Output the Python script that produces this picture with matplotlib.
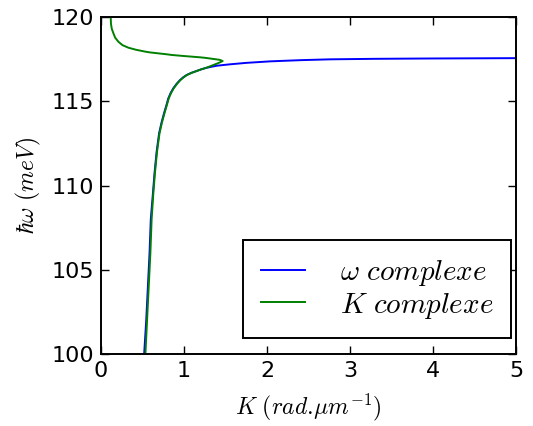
import matplotlib
matplotlib.use("Agg")
import matplotlib.pyplot as plt

# omega complex branch (K real, E)
k_omega = [0.52, 0.545, 0.565, 0.585, 0.60, 0.625, 0.645, 0.67, 0.70, 0.73, 0.759, 0.79, 0.811, 0.84,
           0.871, 0.91, 0.952, 0.99, 1.032, 1.09, 1.153, 1.21, 1.273, 1.394, 1.546, 1.75, 2.04, 2.4,
           2.76, 3.3, 3.96, 5.0]
e_omega = [100.0, 102.0, 104.0, 106.0, 108.0, 109.5, 110.74, 112.0, 113.1, 113.75, 114.28, 114.8, 115.17, 115.5,
           115.77, 116.03, 116.26, 116.42, 116.56, 116.69, 116.80, 116.90, 116.99, 117.11, 117.19, 117.28, 117.37, 117.44,
           117.49, 117.52, 117.54, 117.56]

# K complex branch
k_kc = [0.535, 0.555, 0.575, 0.595, 0.61, 0.63, 0.65, 0.675, 0.705, 0.735, 0.764, 0.795, 0.816, 0.845,
        0.876, 0.915, 0.957, 0.995, 1.036, 1.093, 1.155, 1.21, 1.27, 1.353, 1.42, 1.466, 1.43, 1.373,
        1.253, 1.193, 0.99, 0.85, 0.79, 0.59, 0.53, 0.42, 0.33, 0.26, 0.21, 0.17, 0.15, 0.13, 0.12, 0.117]
e_kc = [100.0, 102.0, 104.0, 106.0, 108.0, 109.5, 110.74, 112.0, 113.1, 113.75, 114.28, 114.8, 115.17, 115.5,
        115.77, 116.03, 116.26, 116.42, 116.56, 116.69, 116.80, 116.90, 116.99, 117.15, 117.28, 117.39, 117.46, 117.50,
        117.58, 117.61, 117.69, 117.75, 117.79, 117.9, 117.95, 118.06, 118.18, 118.33, 118.53, 118.78, 119.03, 119.3, 119.6, 120.0]

labels = [r'$\omega\ complexe$', r'$K\ complexe$']

plt.rcParams['mathtext.fontset'] = 'cm'
plt.rcParams['font.family'] = 'DejaVu Sans'

fig = plt.figure(figsize=(5.33, 4.26), dpi=100)
ax = fig.add_axes([0.1895, 0.169, 0.7785, 0.791])
ax.plot(k_omega, e_omega, color='#0000ff', lw=1.4, label=labels[0])
ax.plot(k_kc, e_kc, color='#008000', lw=1.4, label=labels[1])
ax.set_xlim(0, 5)
ax.set_ylim(100, 120)
ax.set_xticks([0, 1, 2, 3, 4, 5])
ax.set_yticks([100, 105, 110, 115, 120])
ax.tick_params(direction='in', length=6, width=1, top=True, right=True,
               labelsize=16, pad=5)
for s in ax.spines.values():
    s.set_linewidth(1.4)
ax.set_xlabel(r'$K\ (rad.\!\mu m^{-1})$', fontsize=17, labelpad=8)
ax.set_ylabel(r'$\hbar\omega\ (meV)$', fontsize=17, labelpad=6)
leg = ax.legend(loc='lower right', fontsize=21, handlelength=1.5, fancybox=False,
                framealpha=1, edgecolor='black', borderpad=0.6, labelspacing=0.1,
                handletextpad=1.2, borderaxespad=0, bbox_to_anchor=(0.988, 0.047))
leg.get_frame().set_linewidth(1.4)
fig.savefig('out.png', dpi=100)
